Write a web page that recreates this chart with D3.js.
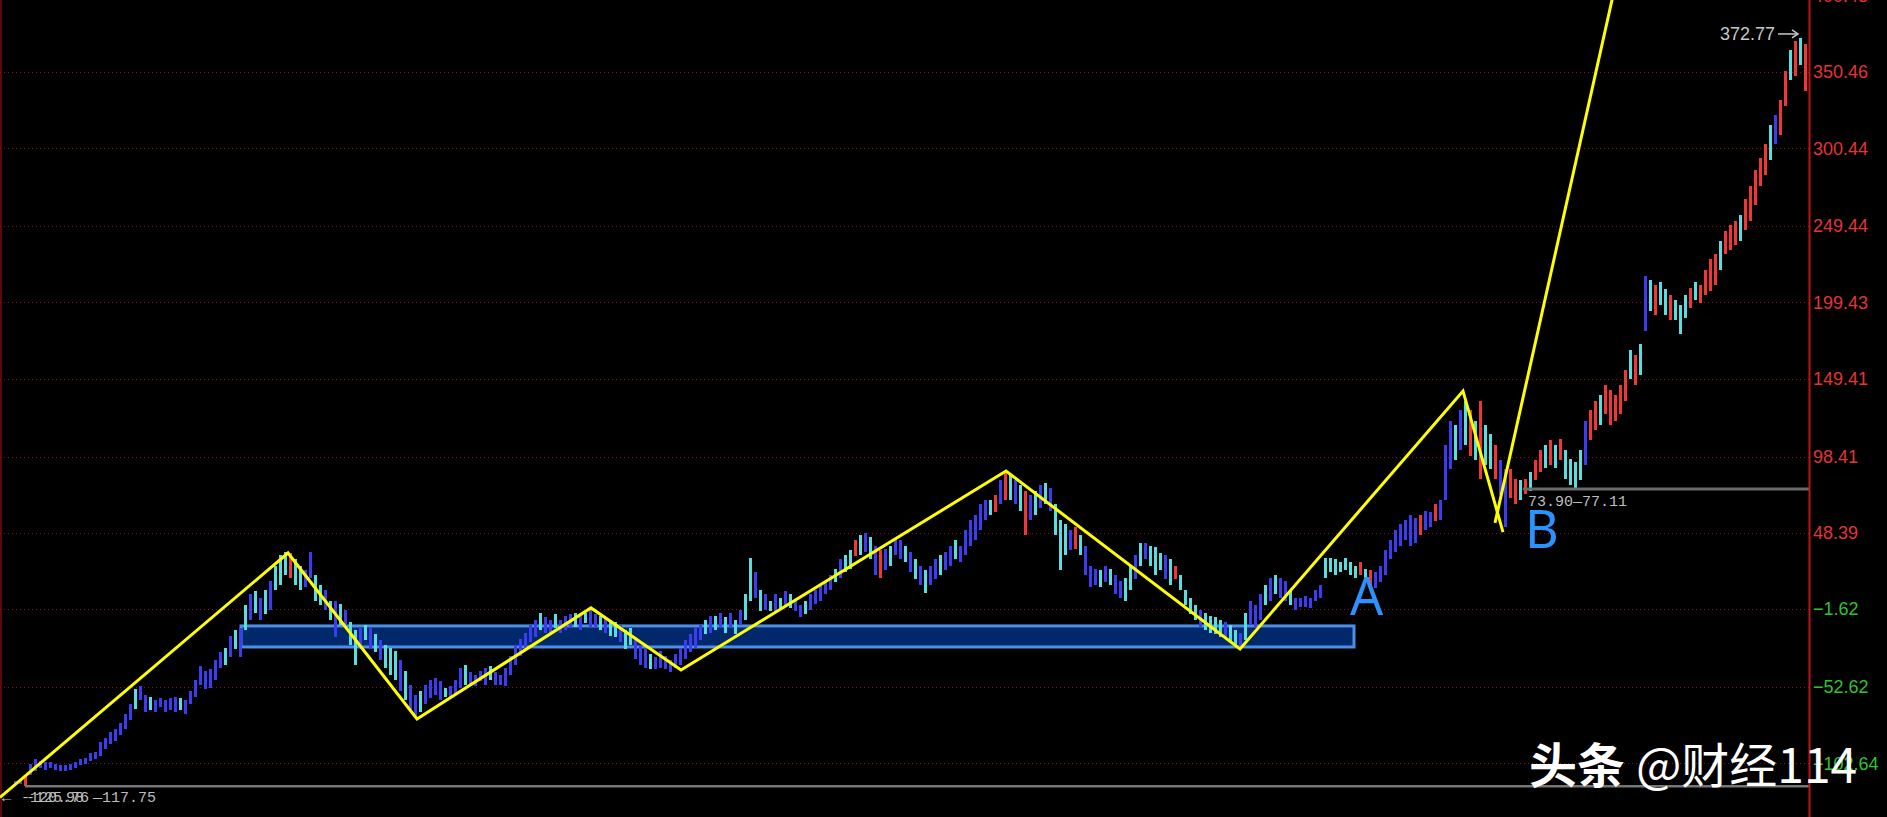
<!DOCTYPE html>
<html>
<head>
<meta charset="utf-8">
<script src="https://cdn.jsdelivr.net/npm/d3@7"></script>
<style>
  body { margin: 0; background: #000; }
  svg { display: block; }
</style>
</head>
<body>
<div id="kline"></div>
<script>
var width = 1887,
    height = 817;

// bar high / low, one entry per bar, left to right
var barHigh = [
  -114,-113,-110,-103,-100,-101,-102,-102,-103,-104,
  -104,-103,-102,-100,-99,-96,-95,-89,-86,-82,
  -80,-76,-70,-64,-54,-52,-58,-59,-61,-60,
  -61,-60,-59,-60,-61,-55,-48,-39,-42,-41,
  -35,-30,-27,-19,-15,-14,1,8,10,6,
  11,17,27,34,36,35,31,27,24,36,
  21,14,11,4,4,2,-2,-10,-15,-14,
  -12,-14,-18,-22,-25,-27,-29,-35,-42,-51,
  -58,-55,-51,-48,-47,-49,-53,-52,-48,-40,
  -38,-43,-45,-42,-40,-39,-43,-45,-40,-32,
  -25,-21,-17,-12,-9,-4,-7,-9,-5,-9,
  -6,-5,-4,-6,-4,-2,-5,-6,-7,-9,
  -10,-12,-15,-14,-20,-25,-27,-31,-33,-29,
  -32,-35,-31,-27,-22,-18,-14,-12,-9,-6,
  -6,-4,-7,-4,-9,-2,8,32,23,11,
  8,4,8,6,10,8,4,1,4,8,
  11,14,17,21,25,31,34,37,44,47,
  48,46,40,37,38,40,45,44,40,36,
  31,27,24,27,31,34,36,40,44,40,
  50,57,60,67,70,70,73,83,88,86,
  83,80,76,73,76,80,81,78,67,57,
  54,50,52,47,40,27,25,24,27,25,
  21,17,19,27,34,42,42,40,39,35,
  34,31,27,21,11,6,1,-2,-4,-6,
  -7,-9,-10,-12,-15,-17,-4,4,1,8,
  14,19,21,19,17,11,6,6,7,6,
  11,14,32,32,31,29,32,29,27,29,
  25,24,23,27,37,44,50,54,57,60,
  58,60,63,62,67,70,106,122,119,129,
  135,129,122,135,119,113,106,96,90,90,
  84,83,84,88,96,103,106,109,106,110,
  103,97,95,103,122,129,135,139,145,142,
  139,145,155,168,165,172,217,214,211,213,
  208,204,201,198,204,209,213,211,221,228,
  231,240,246,250,253,257,267,276,286,294,
  303,316,322,332,351,365,371,372.77,369
];

var barLow = [
  -117,-116,-117.75,-110,-108,-106,-107,-106,-107,-108,
  -108,-107,-106,-104,-103,-101,-100,-98,-93,-90,
  -88,-84,-80,-74,-67,-61,-69,-68,-69,-66,
  -69,-68,-69,-68,-70,-64,-59,-51,-54,-53,
  -48,-40,-38,-33,-28,-33,-15,-9,-4,-9,
  -5,-2,11,14,21,19,14,11,13,19,
  4,1,-2,-9,-20,-12,-14,-25,-38,-27,
  -22,-28,-30,-35,-40,-45,-48,-55,-61,-68,
  -72,-69,-64,-60,-58,-61,-59,-60,-57,-53,
  -51,-51,-52,-49,-51,-48,-51,-51,-52,-45,
  -38,-32,-27,-23,-20,-15,-17,-18,-14,-17,
  -15,-14,-13,-15,-11,-13,-14,-15,-17,-19,
  -20,-23,-28,-25,-34,-38,-40,-41,-41,-40,
  -41,-43,-40,-38,-34,-30,-27,-22,-18,-17,
  -15,-14,-17,-14,-18,-12,-9,4,6,-3,
  -2,-3,-4,-2,1,-1,-3,-7,-5,-2,
  2,4,8,11,16,19,23,25,33,34,
  36,31,21,19,24,27,34,31,29,23,
  18,14,9,14,18,21,24,27,31,29,
  34,40,44,50,57,60,62,67,70,70,
  67,63,47,57,60,65,67,63,47,24,
  34,37,38,34,21,13,14,13,16,14,
  8,6,4,11,18,27,31,27,21,24,
  18,14,18,11,1,-5,-9,-13,-15,-17,
  -18,-20,-20,-23,-25,-27,-22,-12,-14,-9,
  1,4,8,6,4,1,-2,0,0,-1,
  4,6,19,23,21,23,24,21,19,21,
  17,14,12,16,21,31,36,40,44,40,
  42,47,50,52,56,57,70,90,96,103,
  106,99,96,84,93,90,84,73,52,71,
  67,70,74,76,83,88,91,93,91,96,
  84,80,78,83,93,109,116,119,126,119,
  122,126,135,149,145,152,181,194,191,198,
  191,188,188,179,189,196,201,199,204,207,
  211,221,231,234,237,240,247,253,263,276,
  283,293,303,309,328,345,348,355,338
];

// b = signal bar, c = falling, r = rising
var barTone = (
  "bbrbbbbbbb" + "bbbbbbbbbb" + "bbbbcbbcbb" + "bbbcbbbbbb" + "bbcbcbcbcb" +
  "cbcccrccbb" + "ccbcbcbccb" + "cbcbcccbcb" + "bcbbbbcbbb" + "cbbbbcbbbb" +
  "bbbbbcbbcb" + "bbcbcbbcbc" + "cbccbbbcbb" + "bbbbbbbbcb" + "cbcbcbccbc" +
  "bcbcbcbbcb" + "bbbbcbccrc" + "bcbrbcbbcb" + "cbcbbcbbcb" + "bbbbbcrbrc" +
  "bcrbcbcbcc" + "cbrcbbbcbc" + "bbccbcbccc" + "bcrccccbcc" + "ccbccbcbbb" +
  "cbcbbcbbbb" + "bbcccccccr" + "crbbbbbbbb" + "brbbrbbbcb" + "crcrccrbbr" +
  "rcrcrrcrcr" + "ccccbrrcrr" + "rrrcrcbcrc" + "crcccrcrrr" + "rcrrrcrrrr" +
  "rcbrrcrcr"
).split('');

var tickValues = [400.48, 350.46, 300.44, 249.44, 199.43, 149.41, 98.41, 48.39, -1.62, -52.62, -102.64];

// hand drawn wave line (bar index, price)
var zigzagIdx = [-3, 54.6, 80.4, 115.2, 133.2, 198.2, 245, 289.6, 297.6];
var zigzagVal = [-125, 35.2, -73.6, -0.8, -41.5, 88.9, -27.7, 141.4, 48.9];
var breakoutIdx = [296, 324];
var breakoutVal = [54.9, 465];

var zoneIdx = [45.2, 267.8];
var zoneVal = [-12.6, -26.4];

var lowIdx = 2, lowValue = -117.75;
var supportIdx = 301.6, supportValue = 77.11;
var peakIdx = 357, peakValue = 372.77;

var waveLabels = ['A', 'B'];
var waveIdx = [267, 302];
var waveVal = [-5.4, 38.5];

var toneColor = {b: '#3c3cf2', c: '#58dede', r: '#f03636'};
var axisX = 1809;

var x = d3.scaleLinear()
    .domain([0, barHigh.length - 1])
    .range([15, 1805]);

var y = d3.scaleLinear()
    .domain([-102.64, 350.46])
    .range([763.3, 72]);

var svg = d3.select('#kline').append('svg')
    .attr('width', width)
    .attr('height', height)
    .style('background', '#000');

// frame
svg.append('line')
    .attr('x1', 1).attr('x2', 1)
    .attr('y1', 0).attr('y2', height)
    .attr('stroke', '#5a0a0a')
    .attr('stroke-width', 2);

svg.selectAll('.grid')
    .data(tickValues)
    .enter().append('line')
    .attr('class', 'grid')
    .attr('x1', 0)
    .attr('x2', axisX)
    .attr('y1', function(d) { return Math.round(y(d)) + 0.5; })
    .attr('y2', function(d) { return Math.round(y(d)) + 0.5; })
    .attr('stroke', '#8a1010')
    .attr('stroke-dasharray', '1,3');

// consolidation zone
svg.append('rect')
    .attr('x', x(zoneIdx[0]))
    .attr('y', y(zoneVal[0]))
    .attr('width', x(zoneIdx[1]) - x(zoneIdx[0]))
    .attr('height', y(zoneVal[1]) - y(zoneVal[0]))
    .attr('fill', '#00286a')
    .attr('stroke', '#4b8fe6')
    .attr('stroke-width', 3);

svg.selectAll('.bar')
    .data(barHigh)
    .enter().append('rect')
    .attr('class', 'bar')
    .attr('x', function(d, i) { return Math.round(x(i)) - 1; })
    .attr('y', function(d) { return y(d); })
    .attr('width', 3)
    .attr('height', function(d, i) { return Math.max(1, y(barLow[i]) - y(d)); })
    .attr('fill', function(d, i) { return toneColor[barTone[i]]; })
    .attr('shape-rendering', 'crispEdges');

// low and support markers
svg.append('line')
    .attr('x1', x(lowIdx)).attr('x2', axisX)
    .attr('y1', y(lowValue)).attr('y2', y(lowValue))
    .attr('stroke', '#767676')
    .attr('stroke-width', 2.5);

svg.append('line')
    .attr('x1', x(supportIdx)).attr('x2', axisX)
    .attr('y1', y(supportValue)).attr('y2', y(supportValue))
    .attr('stroke', '#6a6a6a')
    .attr('stroke-width', 3);

var zigzag = d3.line()
    .x(function(d) { return x(d[0]); })
    .y(function(d) { return y(d[1]); });

svg.append('path')
    .datum(d3.zip(zigzagIdx, zigzagVal))
    .attr('d', zigzag)
    .attr('fill', 'none')
    .attr('stroke', '#ffff00')
    .attr('stroke-width', 3)
    .attr('stroke-linejoin', 'miter');

svg.append('path')
    .datum(d3.zip(breakoutIdx, breakoutVal))
    .attr('d', zigzag)
    .attr('fill', 'none')
    .attr('stroke', '#ffff00')
    .attr('stroke-width', 3);

// right price axis
svg.append('line')
    .attr('x1', axisX + 0.5).attr('x2', axisX + 0.5)
    .attr('y1', 0).attr('y2', height)
    .attr('stroke', '#c01414')
    .attr('stroke-width', 2);

var axis = svg.append('g')
    .attr('transform', 'translate(' + axisX + ',0)')
    .call(d3.axisRight(y)
        .tickValues(tickValues)
        .tickSize(0)
        .tickPadding(4)
        .tickFormat(d3.format('.2f')));

axis.select('.domain').remove();
axis.selectAll('text')
    .attr('font-family', '"Liberation Sans", Arial, sans-serif')
    .attr('font-size', 18)
    .attr('fill', function(d) { return d >= 0 ? '#e43434' : '#2ec42e'; });

// price notes
svg.append('text')
    .attr('x', x(peakIdx) - 25)
    .attr('y', y(peakValue) + 2)
    .attr('text-anchor', 'end')
    .attr('font-family', '"Liberation Sans", Arial, sans-serif')
    .attr('font-size', 18)
    .attr('fill', '#c8c8c8')
    .text(d3.format('.2f')(peakValue));

svg.append('line')
    .attr('x1', x(peakIdx) - 22).attr('x2', x(peakIdx) - 3)
    .attr('y1', y(peakValue) - 4).attr('y2', y(peakValue) - 4)
    .attr('stroke', '#c8c8c8')
    .attr('stroke-width', 1.5);
svg.append('path')
    .attr('d', 'M' + (x(peakIdx) - 8) + ',' + (y(peakValue) - 8) + 'L' + (x(peakIdx) - 2) + ',' + (y(peakValue) - 4) + 'L' + (x(peakIdx) - 8) + ',' + (y(peakValue)))
    .attr('fill', 'none')
    .attr('stroke', '#c8c8c8')
    .attr('stroke-width', 1.5);

svg.append('text')
    .attr('x', x(supportIdx) + 5)
    .attr('y', y(supportValue) + 17)
    .attr('font-family', '"Liberation Mono", "DejaVu Sans Mono", monospace')
    .attr('font-size', 15)
    .attr('fill', '#bdbdbd')
    .text('73.90\u201477.11');

var lowNote = svg.append('g')
    .attr('font-family', '"Liberation Mono", "DejaVu Sans Mono", monospace')
    .attr('font-size', 15)
    .attr('fill', '#bdbdbd');
lowNote.append('text').attr('x', 2).attr('y', y(lowValue) + 16).text('\u2190');
lowNote.append('text').attr('x', 21).attr('y', y(lowValue) + 16).text('-120.98');
lowNote.append('text').attr('x', 26).attr('y', y(lowValue) + 16).text('-125.76');
lowNote.append('text').attr('x', 93).attr('y', y(lowValue) + 16).text('\u2014117.75');

svg.selectAll('.wave')
    .data(waveLabels)
    .enter().append('text')
    .attr('class', 'wave')
    .attr('x', function(d, i) { return x(waveIdx[i]); })
    .attr('y', function(d, i) { return y(waveVal[i]); })
    .attr('font-family', '"Noto Sans", "Open Sans", sans-serif')
    .attr('font-size', 52)
    .attr('fill', '#2a93ff')
    .text(function(d) { return d; });

var mark = svg.append('text')
    .attr('x', 1529)
    .attr('y', 783)
    .attr('font-family', '"Noto Sans CJK SC", sans-serif')
    .attr('font-size', 48)
    .attr('fill', '#ffffff');
mark.append('tspan').attr('font-weight', 'bold').text('头条 ');
mark.append('tspan').text('@财经114');
</script>
</body>
</html>
